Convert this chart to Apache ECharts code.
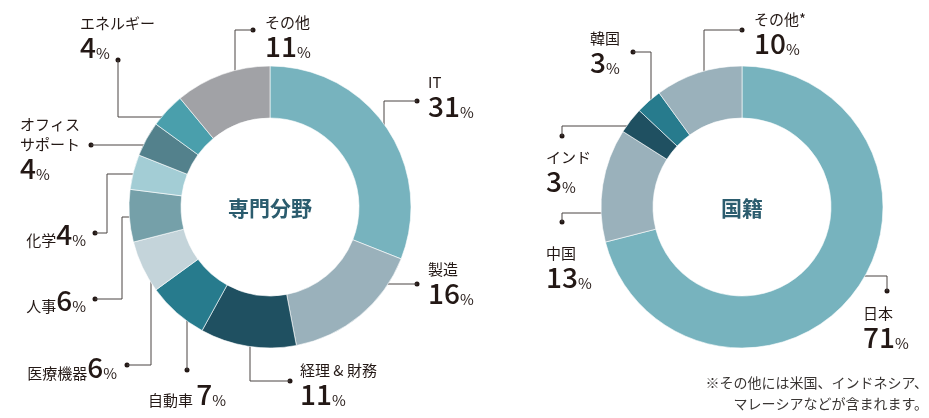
<!DOCTYPE html>
<html>
<head>
  <meta charset="utf-8">
  <title>専門分野・国籍</title>
  <script src="https://cdn.jsdelivr.net/npm/echarts@6/dist/echarts.min.js"></script>
  <style>
    html, body { margin: 0; padding: 0; background: #fff; }
    #main { width: 929px; height: 418px; }
  </style>
</head>
<body>
  <div id="main"></div>
  <script>
  // 専門分野 (%)
  var fieldNames = ['IT', '製造', '経理 & 財務', '自動車', '医療機器', '人事', '化学', 'オフィス\nサポート', 'エネルギー', 'その他'];
  var fieldValues = [31, 16, 11, 7, 6, 6, 4, 4, 4, 11];
  // 国籍 (%)
  var nationNames = ['日本', '中国', 'インド', '韓国', 'その他*'];
  var nationValues = [71, 13, 3, 3, 10];
  var noteText = '※その他には米国、インドネシア、\nマレーシアなどが含まれます。';

  var fieldColors = ['#77b3be', '#9ab1bb', '#1f5061', '#277b8d', '#c4d4da', '#75a0a9', '#a3cdd5', '#53818c', '#4a9fac', '#a1a2a6'];
  var nationColors = ['#77b3be', '#9ab1bb', '#1f5061', '#277b8d', '#9ab1bb'];

  var font = '"Noto Sans CJK JP", "Noto Sans", sans-serif';
  var textColor = '#231815';
  var lineColor = '#4a4543';
  var leftCenter = [270, 207];
  var rightCenter = [742, 207];

  // 引き出し線の折れ点とラベル位置
  var fieldGuides = [
    { line: [[384, 138], [384, 101], [417, 101]], x: 428, y: 70, align: 'left', valign: 'top', type: 'stack' },
    { line: [[368, 284], [417, 284]], x: 428, y: 257, align: 'left', valign: 'top', type: 'stack' },
    { line: [[250, 337], [250, 381], [290, 381]], x: 300, y: 358, align: 'left', valign: 'top', type: 'stack' },
    { line: [[187, 307], [187, 370]], x: 187, y: 393, align: 'center', valign: 'middle', type: 'inline', gap: true },
    { line: [[151, 272], [151, 365], [127, 365]], x: 117, y: 366, align: 'right', valign: 'middle', type: 'inline' },
    { line: [[137, 217], [122, 217], [122, 299], [95, 299]], x: 86, y: 299, align: 'right', valign: 'middle', type: 'inline' },
    { line: [[137, 174], [107, 174], [107, 233], [95, 233]], x: 86, y: 233, align: 'right', valign: 'middle', type: 'inline' },
    { line: [[149, 145], [91, 145]], x: 20, y: 112, align: 'left', valign: 'top', type: 'stack' },
    { line: [[172, 117], [118, 117], [118, 60]], x: 80, y: 11, align: 'left', valign: 'top', type: 'stack' },
    { line: [[235, 99], [235, 30], [253, 30]], x: 265, y: 10, align: 'left', valign: 'top', type: 'stack' }
  ];
  var nationGuides = [
    { line: [[836, 276], [887, 276], [887, 291]], x: 863, y: 301, align: 'left', valign: 'top', type: 'stack' },
    { line: [[618, 213], [562, 213], [562, 222]], x: 546, y: 241, align: 'left', valign: 'top', type: 'stack' },
    { line: [[636, 126], [562, 126], [562, 136]], x: 546, y: 145, align: 'left', valign: 'top', type: 'stack' },
    { line: [[651, 108], [651, 52], [633, 52]], x: 590, y: 26, align: 'left', valign: 'top', type: 'stack' },
    { line: [[704, 82], [704, 30], [742, 30]], x: 754, y: 7, align: 'left', valign: 'top', type: 'stack' }
  ];

  var rich = {
    n: { fontSize: 15, lineHeight: 20, color: textColor, fontFamily: font, verticalAlign: 'bottom' },
    v: { fontSize: 28, lineHeight: 30, color: textColor, fontFamily: font, fontWeight: 500, verticalAlign: 'bottom' },
    p: { fontSize: 15, lineHeight: 21, color: textColor, fontFamily: font, verticalAlign: 'bottom' }
  };

  function labelText(guides) {
    return function (params) {
      var g = guides[params.dataIndex];
      var num = '{v|' + params.value + '}{p|%}';
      if (g.type === 'stack') return '{n|' + params.name + '}\n' + num;
      return '{n|' + params.name + (g.gap ? ' ' : '') + '}' + num;
    };
  }

  function guideLayout(guides) {
    return function (params) {
      var g = guides[params.dataIndex];
      return { x: g.x, y: g.y, align: g.align, verticalAlign: g.valign, labelLinePoints: g.line };
    };
  }

  function donut(center, names, values, colors, guides) {
    return {
      type: 'pie',
      center: center,
      radius: [89, 141],
      startAngle: 90,
      clockwise: true,
      avoidLabelOverlap: false,
      silent: true,
      itemStyle: { borderColor: '#ffffff', borderWidth: 0.6 },
      label: { show: true, position: 'outside', formatter: labelText(guides), rich: rich, fontFamily: font },
      labelLine: { show: true, smooth: false, length: 10, length2: 10, lineStyle: { color: lineColor, width: 1 } },
      labelLayout: guideLayout(guides),
      data: names.map(function (n, i) {
        return { name: n, value: values[i], itemStyle: { color: colors[i] } };
      })
    };
  }

  var dots = fieldGuides.concat(nationGuides).map(function (g) {
    var end = g.line[g.line.length - 1];
    return { type: 'circle', silent: true, shape: { cx: end[0], cy: end[1], r: 2.5 }, style: { fill: textColor } };
  });

  function centerText(c, txt) {
    return {
      type: 'text', x: c[0], y: c[1] + 1, silent: true,
      style: {
        text: txt, fill: '#2b5c6e', font: 'bold 21px ' + font,
        align: 'center', verticalAlign: 'middle', textAlign: 'center', textVerticalAlign: 'middle'
      }
    };
  }

  var chart = echarts.init(document.getElementById('main'));
  chart.setOption({
    animation: false,
    backgroundColor: '#ffffff',
    series: [
      donut(leftCenter, fieldNames, fieldValues, fieldColors, fieldGuides),
      donut(rightCenter, nationNames, nationValues, nationColors, nationGuides)
    ],
    graphic: dots.concat([
      centerText(leftCenter, '専門分野'),
      centerText(rightCenter, '国籍'),
      {
        type: 'text', x: 928, y: 372, silent: true,
        style: {
          text: noteText, fill: '#3a3634', font: '14px ' + font, lineHeight: 21,
          align: 'right', verticalAlign: 'top', textAlign: 'right', textVerticalAlign: 'top'
        }
      }
    ])
  });
  </script>
</body>
</html>
